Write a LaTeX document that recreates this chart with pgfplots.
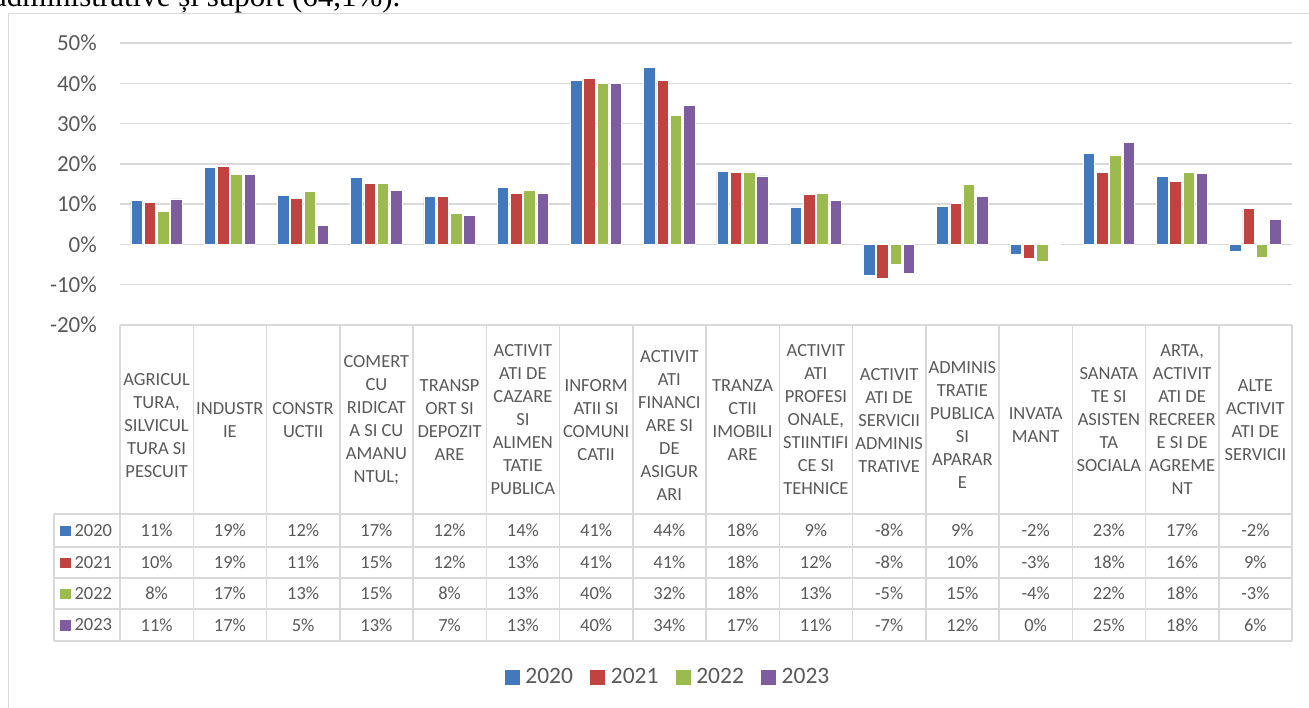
\documentclass[border=0pt]{standalone}
\usepackage{pgfplots}
\pgfplotsset{compat=1.18}
\usepackage{pgfplotstable}
\usepackage{fontspec}
\setmainfont{Carlito}
\newfontfamily\seriffont{Liberation Serif}
\definecolor{c20}{HTML}{4178BE}
\definecolor{c21}{HTML}{C0433F}
\definecolor{c22}{HTML}{9BBB4F}
\definecolor{c23}{HTML}{7E5CA0}
\definecolor{gridgray}{HTML}{D9D9D9}
\definecolor{txtgray}{HTML}{595959}
\newcommand\sq[1]{\textcolor{#1}{\rule{10.5pt}{10.5pt}}\hspace{4pt}}

\pgfplotstableread{
x v20 v21 v22 v23
0 11.0 10.4 8.1 11.3
1 19.0 19.4 17.4 17.3
2 12.2 11.4 13.1 4.7
3 16.7 15.2 15.1 13.3
4 11.9 11.8 7.8 7.3
5 14.1 12.6 13.3 12.7
6 40.6 41.3 40.0 39.9
7 43.9 40.8 32.1 34.4
8 18.1 17.9 18.0 17.0
9 9.3 12.4 12.7 11.0
10 -7.8 -8.4 -5.0 -7.1
11 9.4 10.1 14.9 12.0
12 -2.4 -3.4 -4.1 0
13 22.6 17.8 22.2 25.4
14 16.8 15.7 17.9 17.6
15 -1.8 9.0 -3.3 6.1
}\data

\begin{document}
\begin{tikzpicture}
\begin{scope}
\clip (0pt,0pt) rectangle (1309pt,-708pt);
\node[anchor=base west, inner sep=0pt, font=\seriffont\fontsize{31}{31}\selectfont] at (-7pt,-6.7pt) {administrative și suport (64,1\%).};
\end{scope}
\draw[gridgray, line width=1.2pt] (8.5pt,-708pt) -- (8.5pt,-13.3pt) -- (1309pt,-13.3pt);

\begin{axis}[
  at={(120pt,-43pt)}, anchor=north west, scale only axis,
  width=1172pt, height=282pt,
  xmin=-0.5, xmax=15.5, ymin=-20, ymax=50,
  ybar=1.8pt, bar width=11.5pt,
  ytick={-20,-10,0,10,20,30,40,50},
  yticklabels={-20\%,-10\%,0\%,10\%,20\%,30\%,40\%,50\%},
  xtick={0,...,15},
  xticklabels={
    {\mbox{}\\AGRICUL\\TURA,\\SILVICUL\\TURA SI\\PESCUIT},
    {INDUSTR\\IE},
    {CONSTR\\UCTII},
    {COMERT\\CU\\RIDICAT\\A SI CU\\AMANU\\NTUL;},
    {TRANSP\\ORT SI\\DEPOZIT\\ARE},
    {ACTIVIT\\ATI DE\\CAZARE\\SI\\ALIMEN\\TATIE\\PUBLICA},
    {INFORM\\ATII SI\\COMUNI\\CATII},
    {\mbox{}\\ACTIVIT\\ATI\\FINANCI\\ARE SI\\DE\\ASIGUR\\ARI},
    {TRANZA\\CTII\\IMOBILI\\ARE},
    {ACTIVIT\\ATI\\PROFESI\\ONALE,\\STIINTIFI\\CE SI\\TEHNICE},
    {ACTIVIT\\ATI DE\\SERVICII\\ADMINIS\\TRATIVE},
    {\mbox{}\\ADMINIS\\TRATIE\\PUBLICA\\SI\\APARAR\\E},
    {\mbox{}\\INVATA\\MANT},
    {SANATA\\TE SI\\ASISTEN\\TA\\SOCIALA},
    {ARTA,\\ACTIVIT\\ATI DE\\RECREER\\E SI DE\\AGREME\\NT},
    {ALTE\\ACTIVIT\\ATI DE\\SERVICII}},
  ymajorgrids, grid style={draw=gridgray, line width=1.5pt},
  axis line style={draw=none}, tick style={draw=none}, major tick length=0pt,
  yticklabel style={font=\fontsize{23}{27}\selectfont, text=txtgray, anchor=east, inner sep=0pt, xshift=-23pt},
  xticklabel style={font=\fontsize{18.5}{23}\selectfont, text=txtgray, align=center, anchor=center, inner sep=0pt, yshift=-95pt},
  legend style={at={(0.468,-1.248)}, anchor=center, draw=none, fill=none,
    legend columns=4, font=\fontsize{23.5}{28}\selectfont,
    nodes={text=txtgray, inner sep=3pt},
    /tikz/every odd column/.append style={column sep=3pt},
    /tikz/every even column/.append style={column sep=14pt}},
]
\addplot[fill=c20, draw=white, line width=0.8pt, legend image code/.code={\fill[c20] (0pt,-7pt) rectangle (14pt,7pt);}] table[x=x,y=v20] {\data};
\addplot[fill=c21, draw=white, line width=0.8pt, legend image code/.code={\fill[c21] (0pt,-7pt) rectangle (14pt,7pt);}] table[x=x,y=v21] {\data};
\addplot[fill=c22, draw=white, line width=0.8pt, legend image code/.code={\fill[c22] (0pt,-7pt) rectangle (14pt,7pt);}] table[x=x,y=v22] {\data};
\addplot[fill=c23, draw=white, line width=0.8pt, legend image code/.code={\fill[c23] (0pt,-7pt) rectangle (14pt,7pt);}] table[x=x,y=v23] {\data};
\legend{2020,2021,2022,2023}
\end{axis}

\begin{axis}[
  at={(120pt,-325pt)}, anchor=north west, scale only axis,
  width=1172pt, height=316pt,
  xmin=-0.5, xmax=15.5, ymin=0, ymax=316,
  axis line style={draw=none}, tick style={draw=none}, major tick length=0pt,
  xtick=\empty, ytick={16,47.5,78.5,110.5},
  yticklabels={{\sq{c23}2023},{\sq{c22}2022},{\sq{c21}2021},{\sq{c20}2020}},
  yticklabel style={font=\fontsize{18.5}{22}\selectfont, text=txtgray, anchor=east, inner sep=0pt, xshift=-7.7pt},
  /pgf/number format/assume math mode=true,
  point meta=explicit,
  nodes near coords={\pgfmathprintnumber[fixed,precision=0]{\pgfplotspointmeta}\%},
  nodes near coords align=center,
  every node near coord/.append style={font=\fontsize{18.5}{22}\selectfont, text=txtgray, inner sep=0pt},
]
\addplot[only marks, mark=*, mark size=0pt, mark options={draw=none,fill=none}] table[x=x, y expr=110.5, meta=v20] {\data};
\addplot[only marks, mark=*, mark size=0pt, mark options={draw=none,fill=none}] table[x=x, y expr=78.5, meta=v21] {\data};
\addplot[only marks, mark=*, mark size=0pt, mark options={draw=none,fill=none}] table[x=x, y expr=47.5, meta=v22] {\data};
\addplot[only marks, mark=*, mark size=0pt, mark options={draw=none,fill=none}] table[x=x, y expr=16, meta=v23] {\data};
\end{axis}

\begin{scope}[gridgray, line width=1.5pt]
\foreach \k in {0,...,16} {\draw ({120pt+\k*73.25pt},-325pt) -- ({120pt+\k*73.25pt},-641pt);}
\draw (120pt,-325pt) -- (1292pt,-325pt);
\foreach \yy in {514,547,578,609,641} {\draw (54pt,-\yy pt) -- (1292pt,-\yy pt);}
\draw (54pt,-514pt) -- (54pt,-641pt);
\end{scope}
\pgfresetboundingbox
\path[use as bounding box] (0pt,0pt) rectangle (1309pt,-708pt);
\end{tikzpicture}
\end{document}
